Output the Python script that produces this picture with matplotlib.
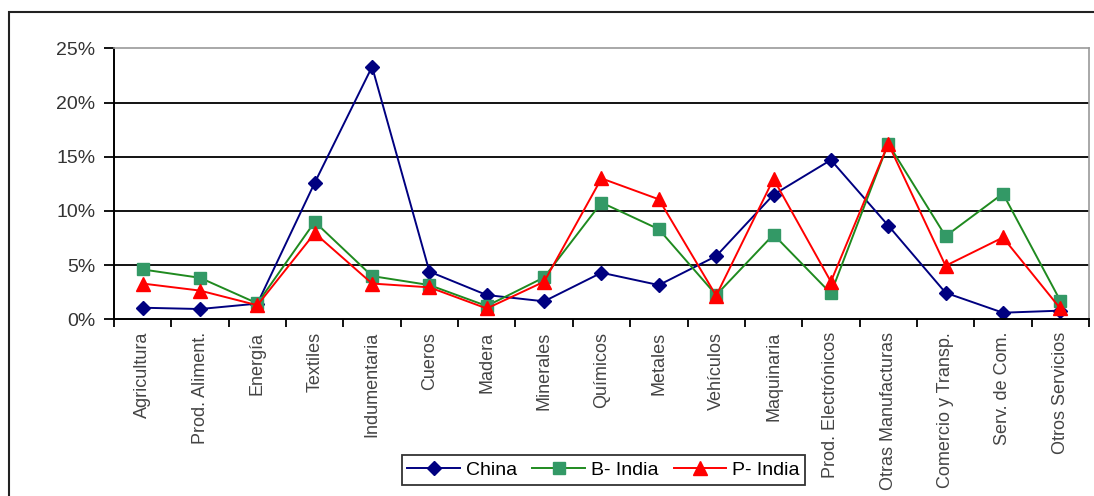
import matplotlib

matplotlib.use("Agg")
import matplotlib.pyplot as plt
from matplotlib.patches import Rectangle
from matplotlib.ticker import FuncFormatter, MultipleLocator

plt.rcParams["font.family"] = ["Liberation Sans", "DejaVu Sans"]

sectors = [
    "Agricultura", "Prod. Aliment.", "Energía", "Textiles", "Indumentaria",
    "Cueros", "Madera", "Minerales", "Químicos", "Metales", "Vehículos",
    "Maquinaria", "Prod. Electrónicos", "Otras Manufacturas",
    "Comercio y Transp.", "Serv. de Com.", "Otros Servicios",
]
china = [1.07, 0.95, 1.45, 12.6, 23.3, 4.4, 2.24, 1.66, 4.3, 3.16, 5.83,
         11.5, 14.7, 8.65, 2.45, 0.61, 0.8]
b_india = [4.6, 3.83, 1.47, 8.99, 3.99, 3.16, 1.23, 3.87, 10.77, 8.31, 2.24,
           7.82, 2.39, 16.2, 7.67, 11.6, 1.72]
p_india = [3.3, 2.65, 1.3, 7.95, 3.3, 2.95, 1.0, 3.47, 13.0, 11.07, 2.18,
           12.95, 3.47, 16.2, 4.94, 7.55, 1.0]

series = [
    ("China", china, dict(color="#000080", marker="D", markersize=7.5,
                          markerfacecolor="#000080", markeredgecolor="#000080")),
    ("B- India", b_india, dict(color="#1f8a1f", marker="s", markersize=8.5,
                               markerfacecolor="#339966", markeredgecolor="#339966")),
    ("P- India", p_india, dict(color="#ff0000", marker="^", markersize=10,
                               markerfacecolor="#ff0000", markeredgecolor="#ff0000")),
]

fig = plt.figure(figsize=(10.94, 4.96), dpi=100)
ax = fig.add_axes([0.1042, 0.3562, 0.8912, 0.5464])

# outer chart frame, running off the right and bottom edges
fig.patches.append(Rectangle((9 / 1094, -0.1), 1.2, 1 - 12.3 / 496 + 0.1,
                             transform=fig.transFigure, fill=False,
                             edgecolor="#222222", linewidth=1.5))

xs = list(range(len(sectors)))
for name, vals, style in series:
    ax.plot(xs, vals, label=name, linewidth=1.4, **style)

ax.set_xlim(-0.5, len(sectors) - 0.5)
ax.set_ylim(0, 25)
ax.yaxis.set_major_locator(MultipleLocator(5))
ax.yaxis.set_major_formatter(FuncFormatter(lambda v, _: f"{v:.0f}%"))
for y in (5, 10, 15, 20):
    ax.axhline(y, color="black", linewidth=1.3, zorder=0)

ax.set_xticks(xs)
ax.set_xticklabels(sectors, rotation=90, fontsize=13, color="#444444")
ax.set_xticks([x - 0.5 for x in range(len(sectors) + 1)], minor=True)
ax.tick_params(axis="x", which="major", length=0, pad=9)
ax.tick_params(axis="x", which="minor", length=6, width=1.3, direction="out")
ax.tick_params(axis="y", length=7, width=1.3, direction="out",
               labelsize=14, labelcolor="#333333", pad=6.5)

for side in ("left", "bottom"):
    ax.spines[side].set_color("black")
    ax.spines[side].set_linewidth(1.4)
for side in ("top", "right"):
    ax.spines[side].set_color("#999999")
    ax.spines[side].set_linewidth(1.2)

leg = fig.legend(loc="center", bbox_to_anchor=(603.5 / 1094, 1 - 470 / 496),
                 ncol=3, fontsize=14, frameon=True, fancybox=False,
                 edgecolor="black", handlelength=2.7, columnspacing=0.8,
                 handletextpad=0.3, borderpad=0.3, borderaxespad=0)
leg.get_frame().set_linewidth(1.3)

fig.savefig("out.png", dpi=100)
